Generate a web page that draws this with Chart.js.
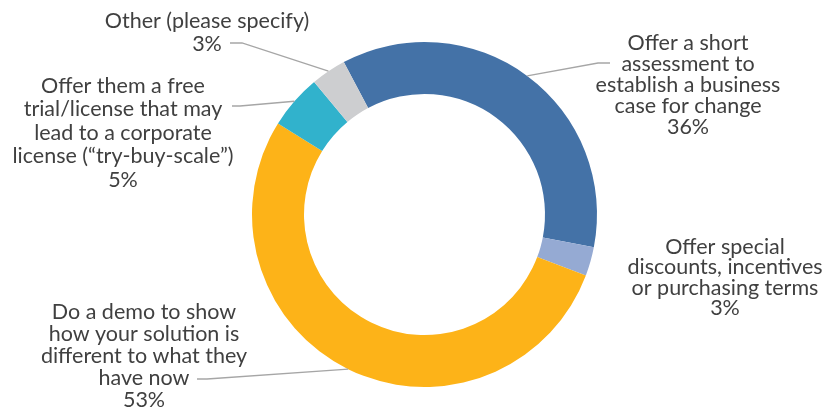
<!DOCTYPE html>
<html>
<head>
<meta charset="utf-8">
<title>Doughnut</title>
<script src="https://cdn.jsdelivr.net/npm/chart.js@4.4.0/dist/chart.umd.min.js"></script>
<style>
  body { margin: 0; background: #fff; }
  #chart { display: block; }
</style>
</head>
<body>
<canvas id="chart" width="825" height="408"></canvas>
<script>
// Chart data
const categories = [
    ['Offer a short', 'assessment to', 'establish a business', 'case for change'],
    ['Offer special', 'discounts, incentives', 'or purchasing terms'],
    ['Do a demo to show', 'how your solution is', 'different to what they', 'have now'],
    ['Offer them a free', 'trial/license that may', 'lead to a corporate', 'license (\u201ctry-buy-scale\u201d)'],
    ['Other (please specify)']
];
const values = [35.8, 2.7, 53.1, 5.1, 3.3];
const pctLabels = ['36%', '3%', '53%', '5%', '3%'];
const sliceColors = ['#4472A7', '#95AAD3', '#FDB318', '#31B2CC', '#CDCED0'];

// Label placement (text centre x, first line y, line height, leader elbow and end)
const labelLayout = [
    { x: 688, y: 43, lh: 21, elbow: [598, 63], end: [610, 63] },
    { x: 725, y: 247, lh: 20.5, elbow: null, end: null },
    { x: 144, y: 312, lh: 22, elbow: [207, 379], end: [197, 379] },
    { x: 123, y: 86, lh: 23.5, elbow: [240, 106], end: [232, 106] },
    { x: 207, y: 21, lh: 23, elbow: [242, 43], end: [230, 43] }
];

// Draw the outside labels with leader lines
const outsideLabels = {
    id: 'outsideLabels',
    afterDraw: function(chart) {
        const ctx = chart.ctx;
        const meta = chart.getDatasetMeta(0);
        ctx.save();
        meta.data.forEach(function(arc, i) {
            const lay = labelLayout[i];
            if (lay.elbow) {
                const mid = (arc.startAngle + arc.endAngle) / 2;
                const ax = arc.x + Math.cos(mid) * arc.outerRadius;
                const ay = arc.y + Math.sin(mid) * arc.outerRadius;
                ctx.beginPath();
                ctx.moveTo(ax, ay);
                ctx.lineTo(lay.elbow[0], lay.elbow[1]);
                ctx.lineTo(lay.end[0], lay.end[1]);
                ctx.strokeStyle = '#A6A6A6';
                ctx.lineWidth = 1.3;
                ctx.stroke();
            }
            const lines = categories[i].concat([pctLabels[i]]);
            ctx.fillStyle = '#404040';
            ctx.font = '21.5px Lato';
            ctx.textAlign = 'center';
            ctx.textBaseline = 'middle';
            lines.forEach(function(line, k) {
                ctx.fillText(line, lay.x, lay.y + k * lay.lh);
            });
        });
        ctx.restore();
    }
};

new Chart(document.getElementById('chart'), {
    type: 'doughnut',
    data: {
        labels: categories.map(function(c) { return c.join(' '); }),
        datasets: [{
            data: values,
            backgroundColor: sliceColors,
            borderWidth: 0,
            hoverOffset: 0
        }]
    },
    options: {
        responsive: false,
        animation: false,
        events: [],
        rotation: -27.9,
        radius: 172.5,
        cutout: 120.5,
        layout: {
            padding: { left: 252, right: 228, top: 42, bottom: 21 }
        },
        plugins: {
            legend: { display: false },
            tooltip: { enabled: false }
        }
    },
    plugins: [outsideLabels]
});
</script>
</body>
</html>
